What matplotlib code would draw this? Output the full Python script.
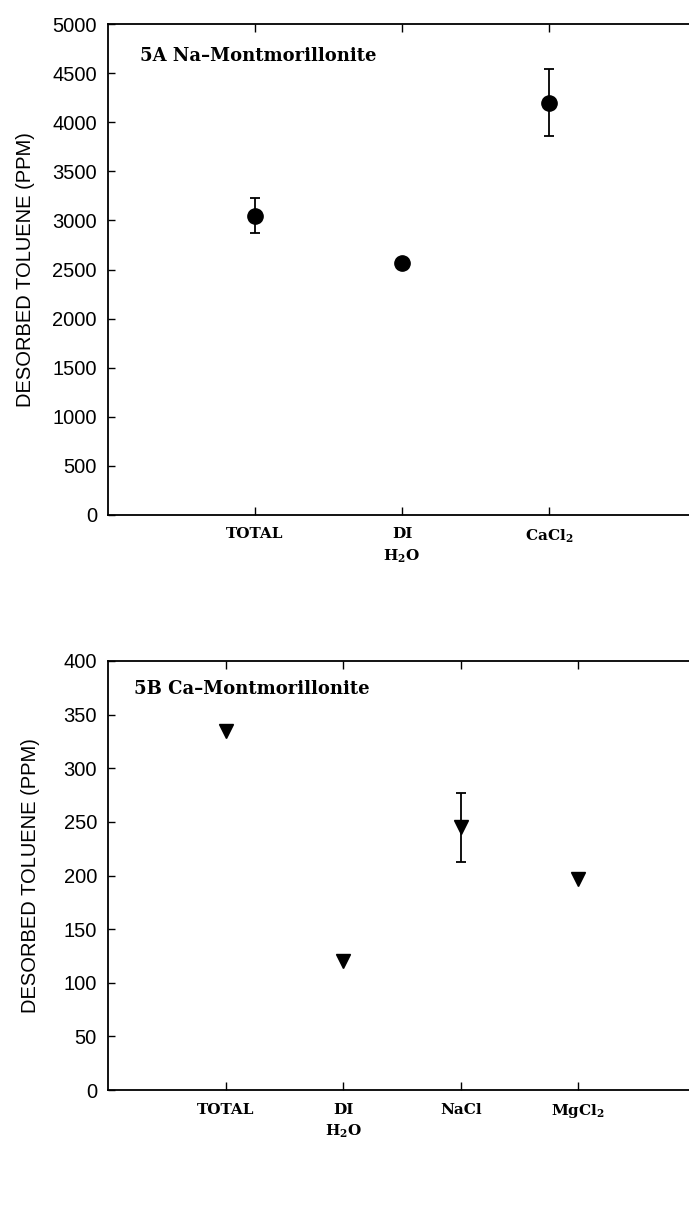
import matplotlib
matplotlib.use("Agg")
import matplotlib.pyplot as plt

plt.rcParams['mathtext.default'] = 'regular'

# 5A Na-Montmorillonite
cats_a = ['TOTAL', 'DI\nH$_2$O', 'CaCl$_2$']
vals_a = [3048, 2562, 4200]
errs_a = [178, 0, 345]

# 5B Ca-Montmorillonite
cats_b = ['TOTAL', 'DI\nH$_2$O', 'NaCl', 'MgCl$_2$']
vals_b = [335, 120, 245, 197]
errs_b = [0, 0, 32, 0]

W, H = 689, 1205
fig = plt.figure(figsize=(W / 100, H / 100), dpi=100)

serif = 'DejaVu Serif'
sans = 'Liberation Sans'


def panel(rect, cats, vals, errs, marker, ms, ymax, ystep, title, titx, labx):
    ax = fig.add_axes(rect)
    xs = list(range(1, len(cats) + 1))
    for x, v, e in zip(xs, vals, errs):
        if e > 0:
            ax.errorbar(x, v, yerr=e, fmt='none', ecolor='black',
                        elinewidth=1.3, capsize=3.5, capthick=1.3)
    ax.plot(xs, vals, linestyle='none', marker=marker, ms=ms,
            color='black', zorder=3)
    ax.set_xlim(0, len(cats) + 1)
    ax.set_ylim(0, ymax)
    ax.set_yticks(range(0, ymax + 1, ystep))
    ax.set_xticks(xs)
    ax.set_xticklabels(cats, fontfamily=serif, fontsize=11,
                       fontweight='bold', linespacing=1.5, va='top')
    ax.tick_params(axis='x', direction='in', top=True, length=6,
                   width=1, pad=9)
    ax.tick_params(axis='y', direction='in', right=True, length=5,
                   width=1, labelsize=14.5, pad=8)
    for lab in ax.get_yticklabels():
        lab.set_fontfamily(sans)
    for s in ax.spines.values():
        s.set_linewidth(1.3)
    ax.set_ylabel('DESORBED TOLUENE (PPM)', fontfamily=sans, fontsize=14.5)
    ax.yaxis.set_label_coords(labx, 0.5)
    ax.text(titx, 0.935, title, transform=ax.transAxes, fontfamily=serif,
            fontsize=13, fontweight='bold', va='center', ha='left')
    return ax


# axes in pixel coordinates: left 108, right ~696
def rect(x0, y0, x1, y1):
    return [x0 / W, 1 - y1 / H, (x1 - x0) / W, (y1 - y0) / H]


panel(rect(108, 24, 696, 515), cats_a, vals_a, errs_a, 'o', 11,
      5000, 500, '5A Na\u2013Montmorillonite', 0.055, -0.124)
panel(rect(108, 661, 696, 1090), cats_b, vals_b, errs_b, 'v', 9.5,
      400, 50, '5B Ca\u2013Montmorillonite', 0.044, -0.116)

fig.savefig('out.png', dpi=100)
